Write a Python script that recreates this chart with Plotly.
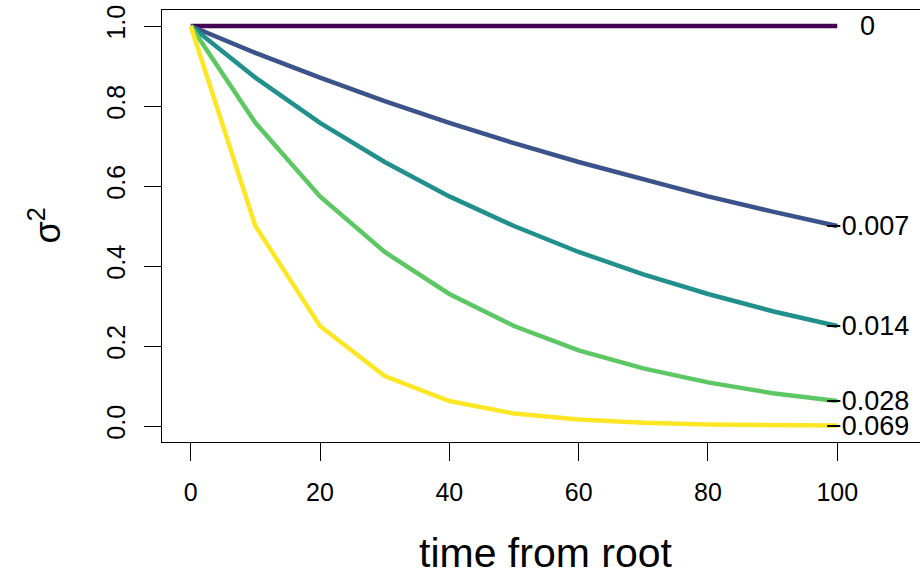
import plotly.graph_objects as go

time = [0, 10, 20, 30, 40, 50, 60, 70, 80, 90, 100]
rate_labels = ["0", "\u22120.007", "\u22120.014", "\u22120.028", "\u22120.069"]
colors = ["#440154", "#3B528B", "#21908C", "#5DC863", "#FDE725"]
s_0 = [1, 1, 1, 1, 1, 1, 1, 1, 1, 1, 1]
s_007 = [1, 0.933, 0.871, 0.812, 0.758, 0.707, 0.660, 0.616, 0.574, 0.536, 0.5]
s_014 = [1, 0.871, 0.758, 0.660, 0.574, 0.5, 0.435, 0.379, 0.330, 0.287, 0.25]
s_028 = [1, 0.758, 0.574, 0.435, 0.330, 0.25, 0.189, 0.144, 0.109, 0.082, 0.0625]
s_069 = [1, 0.5, 0.25, 0.125, 0.0625, 0.031, 0.016, 0.008, 0.004, 0.002, 0.001]
series = [s_0, s_007, s_014, s_028, s_069]
x_ticks = [0, 20, 40, 60, 80, 100]
y_ticks = [0, 0.2, 0.4, 0.6, 0.8, 1.0]
y_tick_text = ["0.0", "0.2", "0.4", "0.6", "0.8", "1.0"]

FONT = "Liberation Sans, Arial, Helvetica, sans-serif"

fig = go.Figure()
for s, c in zip(series, colors):
    fig.add_trace(go.Scatter(x=time, y=s, mode="lines",
                             line=dict(color=c, width=4.5), showlegend=False,
                             hoverinfo="skip"))

for s, lab in zip(series, rate_labels):
    fig.add_annotation(x=104.7, y=s[-1], text=lab, showarrow=False,
                       xanchor="center", yanchor="middle",
                       font=dict(family=FONT, size=27, color="black"))

fig.add_annotation(xref="paper", yref="paper", x=-0.155, y=0.5,
                   text="σ<sup>2</sup>", showarrow=False, textangle=-90,
                   xanchor="center", yanchor="middle",
                   font=dict(family=FONT, size=36, color="black"))

fig.add_annotation(xref="paper", yref="paper", x=(545 - 162) / 758,
                   y=(442 - 553) / 432, text="time from root", showarrow=False,
                   xanchor="center", yanchor="middle",
                   font=dict(family=FONT, size=41, color="black"))

fig.update_layout(
    width=920, height=576,
    margin=dict(l=162, r=0, t=10, b=134),
    paper_bgcolor="white", plot_bgcolor="white",
    font=dict(family=FONT, color="black"),
    xaxis=dict(range=[-4.44, 112.8], tickvals=x_ticks, ticks="outside",
               ticklen=18, tickwidth=1.3, tickcolor="black",
               showline=True, linecolor="black", linewidth=1.3, mirror=True,
               showgrid=False, zeroline=False,
               tickfont=dict(family=FONT, size=25, color="black"),
               ticklabelstandoff=10),
    yaxis=dict(range=[-0.04, 1.04], tickvals=y_ticks, ticktext=y_tick_text,
               ticks="outside", ticklen=17, tickwidth=1.3, tickcolor="black",
               showline=True, linecolor="black", linewidth=1.3, mirror=False,
               showgrid=False, zeroline=False, tickangle=-90,
               tickfont=dict(family=FONT, size=25, color="black"),
               ticklabelstandoff=9),
)

fig.write_html("out.html")
